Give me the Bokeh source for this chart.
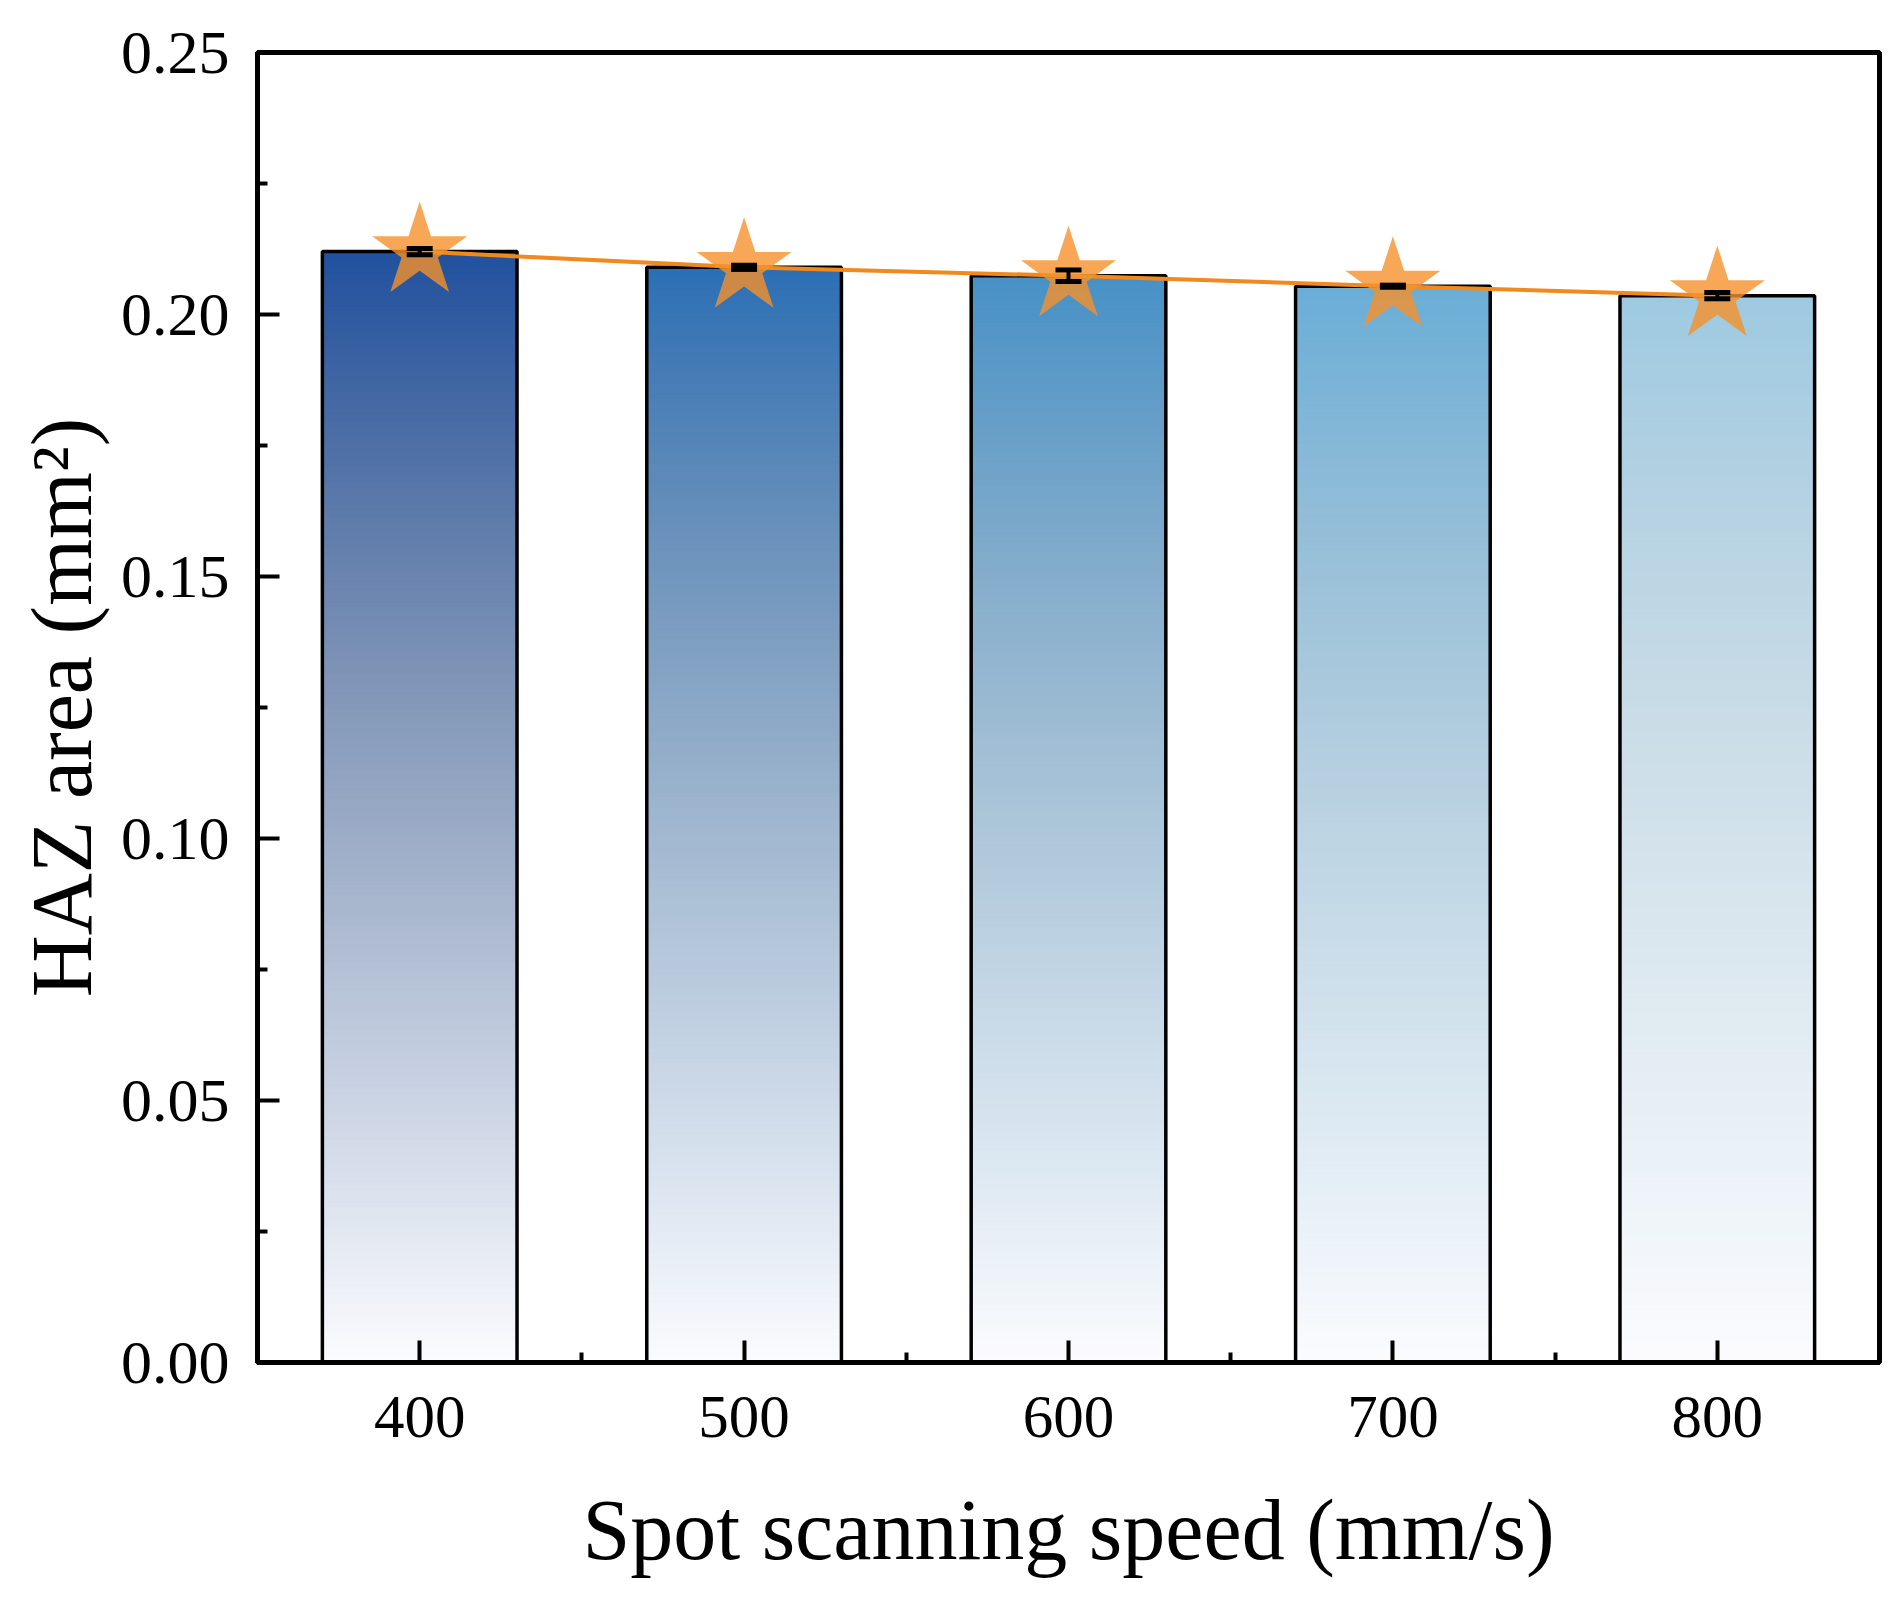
import numpy as np
from bokeh.plotting import figure
from bokeh.models import Range1d, FixedTicker, ColumnDataSource, Whisker, TeeHead
from bokeh.embed import file_html
from bokeh.resources import INLINE

# ---- data ----
speeds = [400, 500, 600, 700, 800]
haz_area = [0.2120, 0.2090, 0.2074, 0.2054, 0.2036]
haz_err = [0.0006, 0.0004, 0.0011, 0.0002, 0.0006]
bar_top_colors = ["#21519f", "#2c6fb5", "#4791c8", "#6aaed8", "#9ecae2"]
x_ticks = [400, 500, 600, 700, 800]
x_minor = [450, 550, 650, 750]
y_ticks = [0.00, 0.05, 0.10, 0.15, 0.20, 0.25]
y_tick_labels = ["0.00", "0.05", "0.10", "0.15", "0.20", "0.25"]
y_minor = [0.025, 0.075, 0.125, 0.175, 0.225]
bar_width = 60

FONT = "Liberation Serif"

p = figure(width=1890, height=1591, output_backend="svg", toolbar_location=None,
           x_range=Range1d(350, 850), y_range=Range1d(0, 0.25),
           min_border_left=257, min_border_right=11, min_border_top=52, min_border_bottom=229)
p.background_fill_color = "white"
p.border_fill_color = "white"
p.xgrid.visible = False
p.ygrid.visible = False
p.outline_line_color = "black"
p.outline_line_width = 5
p.outline_line_alpha = 1.0


def hex2rgb(h):
    h = h.lstrip("#")
    return np.array([int(h[i:i + 2], 16) for i in (0, 2, 4)], dtype=float)


white = np.array([252.0, 252.0, 254.0])
N = 150
L, R, B, T, C = [], [], [], [], []
for xv, v, col in zip(speeds, haz_area, bar_top_colors):
    top = hex2rgb(col)
    # nested slices drawn from tallest to shortest: no gaps between them
    for k in range(N - 1, -1, -1):
        t = (k + 0.5) / N  # fraction from bottom
        c = white + (top - white) * t
        g = c.mean()
        s = 0.3 * np.sin(np.pi * t)
        c = c * (1 - s) + g * s
        c = np.clip(c, 0, 255).astype(int)
        L.append(xv - bar_width / 2)
        R.append(xv + bar_width / 2)
        B.append(0)
        T.append(v * (k + 1) / N)
        C.append("#%02x%02x%02x" % tuple(c))

p.quad(left=L, right=R, bottom=B, top=T, fill_color=C, line_color=None)
p.vbar(x=speeds, width=bar_width, top=haz_area, bottom=0, fill_color=None,
       line_color="black", line_width=3.5)

p.line(speeds, haz_area, line_color="#f08a1e", line_width=4)
p.scatter(speeds, haz_area, marker="star", size=100, fill_color="#f5912a",
          fill_alpha=0.8, line_color=None)

src = ColumnDataSource(dict(x=speeds,
                            up=[v + e for v, e in zip(haz_area, haz_err)],
                            lo=[v - e for v, e in zip(haz_area, haz_err)]))
wh = Whisker(base="x", upper="up", lower="lo", source=src, line_color="black", line_width=4,
             upper_head=TeeHead(size=26, line_color="black", line_width=5),
             lower_head=TeeHead(size=26, line_color="black", line_width=5))
wh.level = "overlay"
p.add_layout(wh)

# axes
for ax in (p.xaxis[0], p.yaxis[0]):
    ax.axis_line_color = "black"
    ax.axis_line_width = 5
    ax.major_tick_line_color = "black"
    ax.major_tick_line_width = 4
    ax.minor_tick_line_color = "black"
    ax.minor_tick_line_width = 4
    ax.major_tick_in = 22
    ax.major_tick_out = 0
    ax.minor_tick_in = 10
    ax.minor_tick_out = 0
    ax.major_label_text_font = FONT
    ax.major_label_text_color = "black"
    ax.axis_label_text_font = FONT
    ax.axis_label_text_font_size = "86px"
    ax.axis_label_text_font_style = "normal"
    ax.axis_label_text_color = "black"

p.xaxis.major_label_text_font_size = "61px"
p.yaxis.major_label_text_font_size = "62px"
p.xaxis.ticker = FixedTicker(ticks=x_ticks, minor_ticks=x_minor)
p.yaxis.ticker = FixedTicker(ticks=y_ticks, minor_ticks=y_minor)
p.yaxis.major_label_overrides = {t: l for t, l in zip(y_ticks, y_tick_labels)}
p.xaxis.major_label_standoff = 34
p.yaxis.major_label_standoff = 28
p.xaxis.axis_label = "Spot scanning speed (mm/s)"
p.yaxis.axis_label = "HAZ area (mm²)"
p.xaxis.axis_label_standoff = 42
p.yaxis.axis_label_standoff = 8

open("out.html", "w").write(file_html(p, INLINE))
